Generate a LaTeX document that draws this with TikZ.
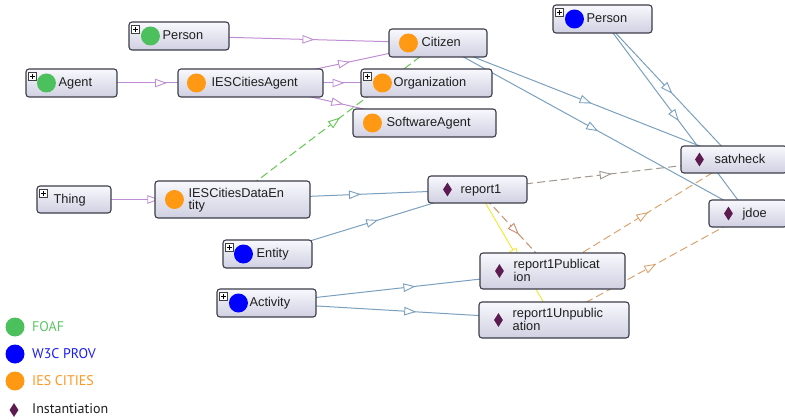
\documentclass[tikz,border=0pt]{standalone}
\usepackage{fontspec}
\setmainfont{Liberation Sans}
\newfontfamily\legendfont{PT Sans}
\usetikzlibrary{arrows.meta,decorations.markings,backgrounds,shapes.geometric}

% palette
\definecolor{boxline}{RGB}{60,60,72}
\definecolor{boxtop}{RGB}{248,248,253}
\definecolor{boxbot}{RGB}{208,208,226}
\definecolor{foaf}{RGB}{76,192,92}
\definecolor{prov}{RGB}{0,0,255}
\definecolor{ies}{RGB}{255,152,18}
\definecolor{inst}{RGB}{92,28,82}
\definecolor{foaftext}{RGB}{92,196,102}
\definecolor{provtext}{RGB}{28,28,240}
\definecolor{iestext}{RGB}{255,150,32}
\definecolor{subclass}{RGB}{192,142,212}
\definecolor{member}{RGB}{122,160,190}
\definecolor{equiv}{RGB}{98,200,80}
\definecolor{relgrey}{RGB}{160,152,144}
\definecolor{relorange}{RGB}{218,164,112}
\definecolor{relbrown}{RGB}{202,142,110}
\definecolor{relyellow}{RGB}{240,234,60}

\tikzset{
  x=1pt, y=-1pt,
  obox/.style={draw=boxline, line width=1.1pt, rounded corners=3pt,
    top color=boxtop, bottom color=boxbot, inner sep=0pt},
  otext/.style={font=\fontsize{12.8}{12.5}\selectfont, text=black!88,
    inner sep=0pt, align=left},
  legendtxt/.style={font=\legendfont\fontsize{14}{14}\selectfont, inner sep=0pt},
  foafdot/.style={circle, fill=foaf, minimum size=19pt, inner sep=0pt},
  provdot/.style={circle, fill=prov, minimum size=19pt, inner sep=0pt},
  iesdot/.style={circle, fill=ies, minimum size=19pt, inner sep=0pt},
  instmark/.style={diamond, fill=inst, minimum width=9pt, minimum height=14pt, inner sep=0pt},
  plusbox/.style={draw=black!75, fill=white, line width=0.5pt, minimum size=8pt,
    inner sep=0pt, path picture={
      \draw[line width=0.8pt, black]
        ([xshift=-2.6pt]path picture bounding box.center) -- ([xshift=2.6pt]path picture bounding box.center)
        ([yshift=-2.6pt]path picture bounding box.center) -- ([yshift=2.6pt]path picture bounding box.center);}},
  midarrow/.style={postaction={decorate}, decoration={markings,
    mark=at position 0.5 with {\arrow[xshift=6pt]{Triangle[length=12pt,width=8.5pt,fill=white,line width=0.9pt]}}}},
  isa/.style={draw=subclass, line width=1pt, midarrow},
  typeof/.style={draw=member, line width=1pt, midarrow},
  sameas/.style={draw=equiv, line width=1pt, dash pattern=on 8pt off 4pt, midarrow},
  relgreyl/.style={draw=relgrey, line width=1pt, dash pattern=on 8pt off 4pt, midarrow},
  relorangel/.style={draw=relorange, line width=1pt, dash pattern=on 8pt off 4pt, midarrow},
  relbrownl/.style={draw=relbrown, line width=1pt, dash pattern=on 8pt off 4pt, midarrow},
  relyellowl/.style={draw=relyellow, line width=1pt, midarrow},
}

% box from its left, top, right and bottom edges
\newcommand\ontobox[5]{%
  \pgfmathsetmacro\obw{#4-#2}\pgfmathsetmacro\obh{#5-#3}%
  \pgfmathsetmacro\obx{(#2+#4)/2}\pgfmathsetmacro\oby{(#3+#5)/2}%
  \node[obox, minimum width=\obw pt, minimum height=\obh pt] (#1) at (\obx,\oby) {};}
% expand marker in the top left corner
\newcommand\plusmark[1]{%
  \node[plusbox, anchor=north west] (#1-plus) at ([xshift=3pt,yshift=-3.5pt]#1.north west) {};}
% coloured icon at a given distance from the left edge
\newcommand\iconmark[3]{%
  \node[#1] (#2-icon) at ([xshift=#3pt]#2.west) {};}
% single line label
\newcommand\boxlabel[3]{%
  \node[otext, anchor=base west] (#1-text) at ([xshift=#2pt,yshift=-3.5pt]#1.west) {#3};}
% two line label (base anchor sits on the last line)
\newcommand\boxlabelii[3]{%
  \node[otext, anchor=base west] (#1-text) at ([xshift=#2pt,yshift=-10pt]#1.west) {#3};}

\begin{document}
\begin{tikzpicture}
\useasboundingbox (0,0) rectangle (785,420);

% ---- classes ----
\ontobox{person1}{129}{22}{229}{50}
\plusmark{person1}\iconmark{foafdot}{person1}{22}\boxlabel{person1}{34}{Person}

\ontobox{agent}{26}{69}{117}{97}
\plusmark{agent}\iconmark{foafdot}{agent}{21}\boxlabel{agent}{33}{Agent}

\ontobox{iesagent}{178}{69}{323}{97}
\iconmark{iesdot}{iesagent}{19}\boxlabel{iesagent}{34}{IESCitiesAgent}

\ontobox{citizen}{389}{29}{487}{57}
\iconmark{iesdot}{citizen}{20}\boxlabel{citizen}{33}{Citizen}

\ontobox{org}{361}{69}{492}{97}
\plusmark{org}\iconmark{iesdot}{org}{22}\boxlabel{org}{33}{Organization}

\ontobox{softagent}{353}{109}{496}{137}
\iconmark{iesdot}{softagent}{20}\boxlabel{softagent}{34}{SoftwareAgent}

\ontobox{person2}{553}{5}{652}{33}
\plusmark{person2}\iconmark{provdot}{person2}{22}\boxlabel{person2}{34}{Person}

\ontobox{thing}{37}{186}{111}{213}
\plusmark{thing}\boxlabel{thing}{17}{Thing}

\ontobox{dataentity}{155}{181}{310}{218}
\iconmark{iesdot}{dataentity}{20}\boxlabelii{dataentity}{34}{IESCitiesDataEn\\tity}

\ontobox{entity}{223}{240}{312}{268}
\plusmark{entity}\iconmark{provdot}{entity}{21}\boxlabel{entity}{34}{Entity}

\ontobox{activity}{217}{289}{316}{317}
\plusmark{activity}\iconmark{provdot}{activity}{22}\boxlabel{activity}{33}{Activity}

% ---- individuals ----
\ontobox{satvheck}{681}{146}{787}{173}
\iconmark{instmark}{satvheck}{19}\boxlabel{satvheck}{34}{satvheck}

\ontobox{jdoe}{709}{200}{787}{227}
\iconmark{instmark}{jdoe}{20}\boxlabel{jdoe}{34}{jdoe}

\ontobox{report1}{428}{176}{527}{203}
\iconmark{instmark}{report1}{20}\boxlabel{report1}{33}{report1}

\ontobox{pub}{480}{253}{625}{289}
\iconmark{instmark}{pub}{20}\boxlabelii{pub}{34}{report1Publicat\\ion}

\ontobox{unpub}{479}{302}{629}{338}
\iconmark{instmark}{unpub}{20}\boxlabelii{unpub}{34}{report1Unpublic\\ation}

% ---- connectors, centre to centre behind the boxes ----
\begin{scope}[on background layer]
  \draw[isa] (person1.center) -- (citizen.center);
  \draw[isa] (agent.center) -- (iesagent.center);
  \draw[isa] (iesagent.center) -- (citizen.center);
  \draw[isa] (iesagent.center) -- (org.center);
  \draw[isa] (iesagent.center) -- (softagent.center);
  \draw[isa] (thing.center) -- (dataentity.center);
  \draw[sameas] (dataentity.center) -- (citizen.center);
  \draw[typeof] (dataentity.center) -- (report1.center);
  \draw[typeof] (entity.center) -- (report1.center);
  \draw[typeof] (activity.center) -- (pub.center);
  \draw[typeof] (activity.center) -- (unpub.center);
  \draw[typeof] (citizen.center) -- (satvheck.center);
  \draw[typeof] (citizen.center) -- (jdoe.center);
  \draw[typeof] (person2.center) -- (satvheck.center);
  \draw[typeof] (person2.center) -- (jdoe.center);
  \draw[relgreyl] (report1.center) -- (satvheck.center);
  \draw[relyellowl] (report1.center) -- (unpub.center);
  \draw[relbrownl] (report1.center) -- (pub.center);
  \draw[relorangel] (pub.center) -- (satvheck.center);
  \draw[relorangel] (unpub.center) -- (jdoe.center);
\end{scope}

% ---- legend ----
\node[foafdot] (lg-foaf) at (15,327) {};
\node[legendtxt, text=foaftext, anchor=west] (lg-foaf-text) at (32,327) {FOAF};
\node[provdot] (lg-prov) at (15,354) {};
\node[legendtxt, text=provtext, anchor=west] (lg-prov-text) at (32,354) {W3C PROV};
\node[iesdot] (lg-ies) at (15,381) {};
\node[legendtxt, text=iestext, anchor=west] (lg-ies-text) at (32,381) {IES CITIES};
\node[instmark] (lg-inst) at (14,410) {};
\node[legendtxt, text=black!88, anchor=west] (lg-inst-text) at (32,409) {Instantiation};
\end{tikzpicture}
\end{document}
